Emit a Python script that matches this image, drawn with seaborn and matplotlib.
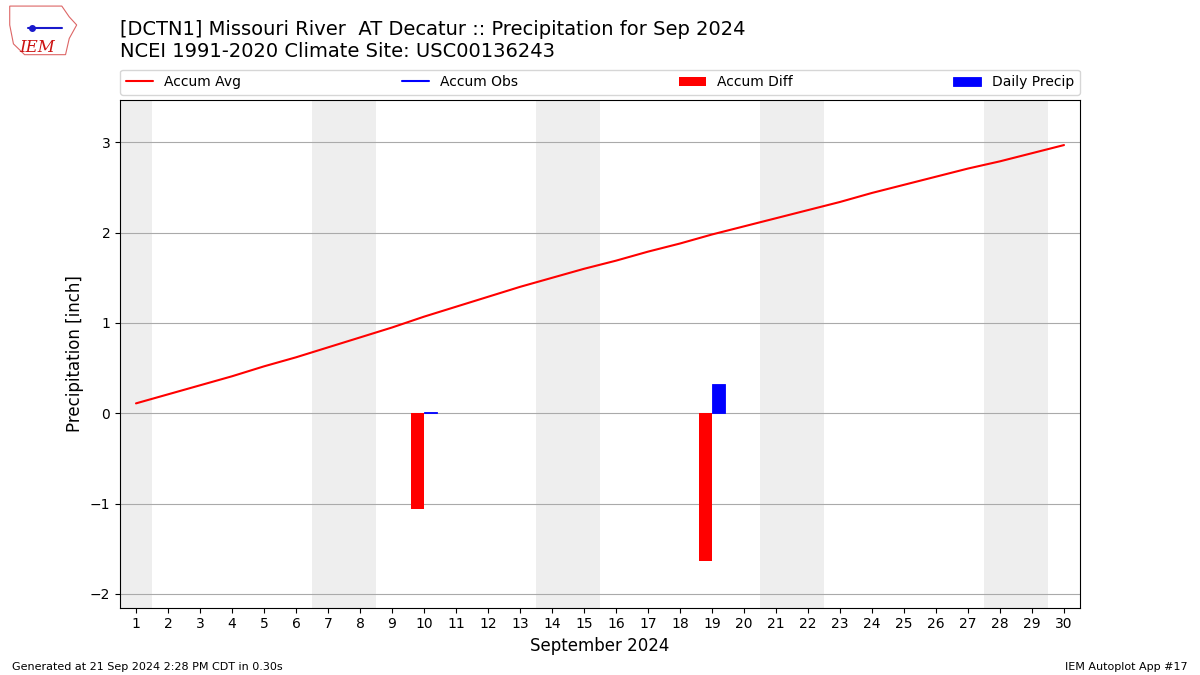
import numpy as np
import pandas as pd
import matplotlib
matplotlib.use("Agg")
import matplotlib.pyplot as plt
import seaborn as sns
from matplotlib.patches import Polygon

# ------------------------------------------------------------------
days = list(range(1, 31))
accum_avg = [0.11, 0.21, 0.31, 0.41, 0.52, 0.62, 0.73, 0.84, 0.95, 1.07,
             1.18, 1.29, 1.40, 1.50, 1.60, 1.69, 1.79, 1.88, 1.98, 2.07,
             2.16, 2.25, 2.34, 2.44, 2.53, 2.62, 2.71, 2.79, 2.88, 2.97]
# observations only reported on a couple of days
accum_obs = [np.nan] * 9 + [0.01] + [np.nan] * 8 + [0.34] + [np.nan] * 11
daily_precip = [np.nan] * 9 + [0.01] + [np.nan] * 8 + [0.33] + [np.nan] * 11

df = pd.DataFrame({"day": days, "avg": accum_avg, "obs": accum_obs, "precip": daily_precip})
df["diff"] = df["obs"] - df["avg"]
df["date"] = pd.to_datetime("2024-09-01") + pd.to_timedelta(df["day"] - 1, unit="D")

# ------------------------------------------------------------------
sns.set_style("ticks", {"text.color": "black", "axes.labelcolor": "black",
                        "xtick.color": "black", "ytick.color": "black",
                        "axes.edgecolor": "black"})
plt.rcParams["font.family"] = ["DejaVu Sans"]

fig = plt.figure(figsize=(12, 6.75), dpi=100)
ax = fig.add_axes([0.1, 0.1, 0.8, 0.752])

# weekend shading
for _, row in df[df["date"].dt.weekday >= 5].iterrows():
    ax.axvspan(row["day"] - 0.5, row["day"] + 0.5, color="#EEEEEE", zorder=0, lw=0)

ax.yaxis.grid(True, color="#AAAAAA", lw=0.8, zorder=1)
ax.set_axisbelow(True)

sns.lineplot(data=df, x="day", y="avg", color="r", lw=1.5, ax=ax, label="Accum Avg", zorder=3)
ax.plot(df["day"], df["obs"], color="b", lw=1.5, label="Accum Obs", zorder=3)
ax.bar(df["day"], df["diff"], width=-0.4, align="edge", color="r", lw=0,
       label="Accum Diff", zorder=2)
ax.bar(df["day"], df["precip"], width=0.4, align="edge", color="b", ec="b", lw=0.6,
       label="Daily Precip", zorder=2)

ax.set_xlim(0.5, 30.5)
ax.set_ylim(-2.15, 3.47)
ax.set_xticks(days)
ax.set_xticklabels([str(d) for d in days])
ax.set_yticks([-2, -1, 0, 1, 2, 3])
ax.set_yticklabels(["\u22122", "\u22121", "0", "1", "2", "3"])
ax.tick_params(labelsize=10, color="black")
ax.set_xlabel("September 2024", fontsize=12)
ax.set_ylabel("Precipitation [inch]", fontsize=12)
for s in ax.spines.values():
    s.set_visible(True)
    s.set_color("black")

leg = ax.legend(loc="lower left", bbox_to_anchor=(0, 1.01, 1, 0.05), ncol=4, mode="expand",
                borderaxespad=0, fontsize=10, frameon=True)

fig.text(0.1, 0.94, "[DCTN1] Missouri River  AT Decatur :: Precipitation for Sep 2024\n"
         "NCEI 1991-2020 Climate Site: USC00136243", fontsize=14, va="center", ha="left")

# simple logo
logo = fig.add_axes([0.005, 0.915, 0.062, 0.08])
logo.set_xlim(0, 1)
logo.set_ylim(0, 1)
logo.axis("off")
logo.add_patch(Polygon([[0.05, 0.95], [0.75, 0.95], [0.85, 0.75], [0.95, 0.6], [0.85, 0.35],
                        [0.8, 0.05], [0.25, 0.05], [0.1, 0.25], [0.05, 0.6]],
                       closed=True, fill=False, ec="#dd6666", lw=0.8))
logo.plot([0.3, 0.75], [0.55, 0.55], color="#1a1acc", lw=1.5)
logo.plot([0.35], [0.55], "o", color="#1a1acc", ms=4)
logo.text(0.18, 0.18, "IEM", color="#cc1111", fontsize=12, family="DejaVu Serif",
          style="italic", va="center")

fig.text(0.01, 0.008, "Generated at 21 Sep 2024 2:28 PM CDT in 0.30s", fontsize=8)
fig.text(0.99, 0.008, "IEM Autoplot App #17", fontsize=8, ha="right")

fig.savefig("out.png", dpi=100)
